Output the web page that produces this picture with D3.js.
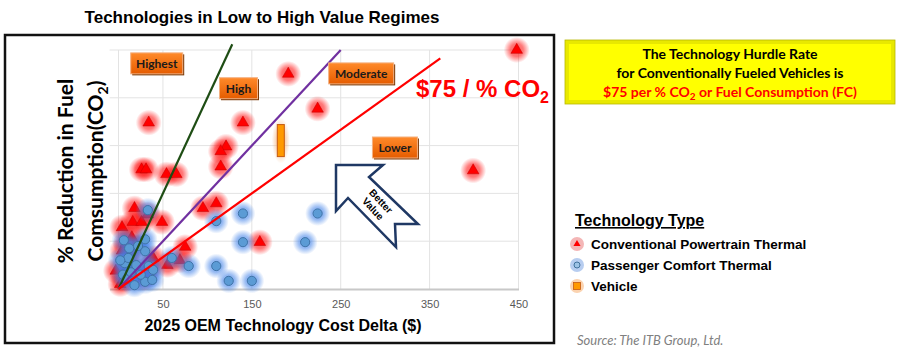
<!DOCTYPE html>
<html>
<head>
<meta charset="utf-8">
<script src="https://cdn.jsdelivr.net/npm/d3@7"></script>
<style>
  body { margin: 0; background: #fff; }
  svg { display: block; }
</style>
</head>
<body>
<svg id="chart" width="900" height="362"></svg>
<script>
// ---- data ----
const xTicks = [50, 150, 250, 350, 450];
const yTicks = [0, 1, 2, 3, 4, 5];

// Conventional Powertrain Thermal: [cost $, % reduction]
const redPts = [
  [448, 5.0], [191, 4.5], [224, 3.77], [34, 3.48], [140, 3.48], [121, 2.98],
  [115, 2.88], [115, 2.56], [26, 2.5], [31, 2.5], [54, 2.4], [65, 2.4],
  [399, 2.48], [95, 1.69], [110, 1.79], [159, 0.98], [75, 0.88], [69, 0.6],
  [55, 0.5], [18, 1.69], [33, 1.56], [16, 1.4], [26, 1.4], [49, 1.4],
  [4, 1.29], [4, 0.8], [17, 0.88], [15, 1.08], [39, 0.65], [35, 0.44],
  [28, 0.23], [30, 0.31], [2, 0.1], [6, 0.2], [-3, 0.38], [10, 0.45], [8, 0.95], [12, 0.6]
];

// Passenger Comfort Thermal
const bluePts = [
  [140, 1.58], [224, 1.58], [110, 1.42], [140, 0.98], [210, 0.98], [79, 0.48],
  [110, 0.48], [124, 0.17], [150, 0.17], [33, 1.65], [6, 1.02], [30, 1.04],
  [30, 0.79], [7, 0.54], [11, 0.65], [34, 0.48], [39, 0.4], [18, 0.08],
  [30, 0.15], [38, 0.19], [60, 0.65], [5, 0.3], [9, 0.2], [14, 0.35],
  [20, 0.5], [22, 0.9], [12, 0.85], [2, 0.6], [25, 0.3]
];

// Vehicle (shown as a range bar)
const vehicle = [{ x: 182.6, y0: 2.77, y1: 3.44 }];

// $ per % lines
const hurdles = [
  { slope: 25, xEnd: 128, color: '#1e4d14' },
  { slope: 50, xEnd: 250, color: '#7030a0' },
  { slope: 75, xEnd: 362, color: '#ff0000' }
];

const regimes = [
  { text: 'Highest',  x: 43,  y: 4.71, w: 52 },
  { text: 'High',     x: 135, y: 4.19, w: 38 },
  { text: 'Moderate', x: 273, y: 4.5,  w: 65 },
  { text: 'Lower',    x: 311, y: 2.95, w: 45 }
];

const legendItems = ['Conventional Powertrain Thermal', 'Passenger Comfort Thermal', 'Vehicle'];

// ---- layout ----
const svg = d3.select('#chart');
const x = d3.scaleLinear().domain([-10, 450]).range([109.6, 518.5]);
const y = d3.scaleLinear().domain([0, 5]).range([289, 50]);

const defs = svg.append('defs');
const glow = (id, color, a) => {
  const g = defs.append('radialGradient').attr('id', id);
  g.append('stop').attr('offset', '0%').attr('stop-color', color).attr('stop-opacity', a);
  g.append('stop').attr('offset', '50%').attr('stop-color', color).attr('stop-opacity', a * 0.8);
  g.append('stop').attr('offset', '100%').attr('stop-color', color).attr('stop-opacity', 0);
};
glow('glowRed', '#ff1010', 0.7);
glow('glowBlue', '#3d7fe8', 0.68);
glow('glowOrange', '#f4a460', 0.6);

const boxGrad = defs.append('linearGradient').attr('id', 'boxGrad')
  .attr('x1', 0).attr('y1', 0).attr('x2', 0).attr('y2', 1);
boxGrad.append('stop').attr('offset', '0%').attr('stop-color', '#ff8a2a');
boxGrad.append('stop').attr('offset', '100%').attr('stop-color', '#e55c00');

// title
svg.append('text')
  .attr('x', 262).attr('y', 23)
  .attr('text-anchor', 'middle')
  .style('font', 'bold 17px "Liberation Sans", Arial, sans-serif')
  .text('Technologies in Low to High Value Regimes');

// frame
svg.append('rect')
  .attr('x', 5).attr('y', 35).attr('width', 549).attr('height', 308)
  .attr('fill', '#fff').attr('stroke', '#111').attr('stroke-width', 2.5);

// grid
const grid = svg.append('g');
grid.selectAll('.hg').data(yTicks.slice(1)).enter().append('line')
  .attr('x1', x(-10)).attr('x2', x(450))
  .attr('y1', d => y(d)).attr('y2', d => y(d))
  .attr('stroke', '#e3e3e3').attr('stroke-width', 1);
grid.selectAll('.vg').data([0].concat(xTicks)).enter().append('line')
  .attr('x1', d => x(d)).attr('x2', d => x(d))
  .attr('y1', y(5)).attr('y2', y(0))
  .attr('stroke', '#e3e3e3').attr('stroke-width', 1);

// x axis
const xAxis = svg.append('g')
  .attr('transform', `translate(0,${y(0)})`)
  .call(d3.axisBottom(x).tickValues(xTicks).tickSize(0).tickPadding(11));
xAxis.select('.domain').attr('stroke', '#c8c8c8').attr('stroke-width', 2);
xAxis.selectAll('text')
  .style('font', '11px "Liberation Sans", Arial, sans-serif')
  .attr('fill', '#595959');

// red series
const plot = svg.append('g');
plot.selectAll('.rg').data(redPts).enter().append('circle')
  .attr('cx', d => x(d[0])).attr('cy', d => y(d[1])).attr('r', 13)
  .attr('fill', 'url(#glowRed)');
plot.selectAll('.rt').data(redPts).enter().append('path')
  .attr('d', d3.symbol(d3.symbolTriangle).size(58))
  .attr('transform', d => `translate(${x(d[0])},${y(d[1])})`)
  .attr('fill', '#ff0000').attr('stroke', '#c00000').attr('stroke-width', 0.5);

// blue series
plot.selectAll('.bg').data(bluePts).enter().append('circle')
  .attr('cx', d => x(d[0])).attr('cy', d => y(d[1])).attr('r', 12.5)
  .attr('fill', 'url(#glowBlue)');
plot.selectAll('.bc').data(bluePts).enter().append('circle')
  .attr('cx', d => x(d[0])).attr('cy', d => y(d[1])).attr('r', 4.6)
  .attr('fill', '#5b9bd5').attr('stroke', '#3f73a8').attr('stroke-width', 1);

// vehicle
plot.selectAll('.vg').data(vehicle).enter().append('ellipse')
  .attr('cx', d => x(d.x)).attr('cy', d => (y(d.y0) + y(d.y1)) / 2)
  .attr('rx', 9).attr('ry', d => (y(d.y0) - y(d.y1)) / 2 + 7)
  .attr('fill', 'url(#glowOrange)');
plot.selectAll('.vr').data(vehicle).enter().append('rect')
  .attr('x', d => x(d.x) - 3.5).attr('y', d => y(d.y1))
  .attr('width', 7).attr('height', d => y(d.y0) - y(d.y1))
  .attr('fill', '#ff9900').attr('stroke', '#c55a11').attr('stroke-width', 1);

// hurdle lines
plot.selectAll('.hl').data(hurdles).enter().append('line')
  .attr('x1', x(0)).attr('y1', y(0))
  .attr('x2', d => x(d.xEnd)).attr('y2', d => y(d.xEnd / d.slope))
  .attr('stroke', d => d.color).attr('stroke-width', 2.2);

// regime boxes
const rb = svg.selectAll('.regime').data(regimes).enter().append('g')
  .attr('transform', d => `translate(${x(d.x)},${y(d.y)})`);
rb.append('rect')
  .attr('x', d => -d.w / 2 + 1.5).attr('y', -9.5).attr('width', d => d.w).attr('height', 21)
  .attr('fill', '#7a3a08');
rb.append('rect')
  .attr('x', d => -d.w / 2).attr('y', -11).attr('width', d => d.w).attr('height', 21)
  .attr('fill', 'url(#boxGrad)').attr('stroke', '#f4b183').attr('stroke-width', 1);
rb.append('text')
  .attr('y', 4).attr('text-anchor', 'middle')
  .style('font', 'bold 12px Lato, "Open Sans", sans-serif')
  .attr('fill', '#1a1a1a')
  .text(d => d.text);

// $75 / % CO2
const t75 = svg.append('text')
  .attr('x', 416).attr('y', 97)
  .attr('fill', '#ff0000')
  .style('font', 'bold 24px "Liberation Sans", Arial, sans-serif');
t75.append('tspan').text('$75 / % CO');
t75.append('tspan').attr('dy', 6).style('font-size', '16px').text('2');

// Better Value arrow
const arrowPts = [[336, 165], [383, 165], [369, 177], [418, 224], [395, 224], [396, 247], [348, 198], [336, 211]];
svg.append('polygon')
  .attr('points', arrowPts.map(p => p.join(',')).join(' '))
  .attr('fill', '#fff').attr('stroke', '#1f3864').attr('stroke-width', 2.5)
  .attr('stroke-linejoin', 'miter');
const bv = svg.append('g').attr('transform', 'translate(377,205) rotate(47)')
  .style('font', 'bold 10px "Liberation Sans", Arial, sans-serif')
  .attr('text-anchor', 'middle');
bv.append('text').attr('y', -2).text('Better');
bv.append('text').attr('y', 9).text('Value');

// y label
const yl = svg.append('g').attr('transform', 'translate(0,171) rotate(-90)')
  .style('font', 'bold 21px Lato, "Open Sans", sans-serif')
  .attr('text-anchor', 'middle');
yl.append('text').attr('x', 0).attr('y', 73).text('% Reduction in Fuel');
const yl2 = yl.append('text').attr('x', 0).attr('y', 103);
yl2.append('tspan').text('Comsumption(CO');
yl2.append('tspan').attr('dy', 5).style('font-size', '14px').text('2');
yl2.append('tspan').attr('dy', -5).text(')');

// x label
svg.append('text')
  .attr('x', 283).attr('y', 331)
  .attr('text-anchor', 'middle')
  .style('font', 'bold 16px "Liberation Sans", Arial, sans-serif')
  .text('2025 OEM Technology Cost Delta ($)');

// yellow hurdle box
const yb = svg.append('g');
yb.append('rect').attr('x', 565).attr('y', 40).attr('width', 330).attr('height', 64)
  .attr('fill', '#e8e800').attr('stroke', '#b8b800').attr('stroke-width', 0.8);
yb.append('rect').attr('x', 569).attr('y', 44).attr('width', 322).attr('height', 56)
  .attr('fill', '#ffff00');
const ybt = yb.append('g').attr('text-anchor', 'middle')
  .style('font', 'bold 14px Lato, "Open Sans", sans-serif');
ybt.append('text').attr('x', 730).attr('y', 59).text('The Technology Hurdle Rate');
ybt.append('text').attr('x', 730).attr('y', 78).text('for Conventionally Fueled Vehicles is');
const yt3 = ybt.append('text').attr('x', 730).attr('y', 97).attr('fill', '#ff0000');
yt3.append('tspan').text('$75 per % CO');
yt3.append('tspan').attr('dy', 3).style('font-size', '10px').text('2');
yt3.append('tspan').attr('dy', -3).text(' or Fuel Consumption (FC)');

// legend
svg.append('text')
  .attr('x', 575).attr('y', 226)
  .style('font', 'bold 16px "Liberation Sans", Arial, sans-serif')
  .attr('text-decoration', 'underline')
  .text('Technology Type');
const lg = svg.selectAll('.lg').data(legendItems).enter().append('g')
  .attr('transform', (d, i) => `translate(577,${244 + i * 21})`);
lg.append('circle').attr('r', 7)
  .attr('fill', (d, i) => ['#f4b6b6', '#b7cdf0', '#fbd3b0'][i]);
lg.filter((d, i) => i === 0).append('path')
  .attr('d', d3.symbol(d3.symbolTriangle).size(22)).attr('fill', '#ff0000');
lg.filter((d, i) => i === 1).append('circle').attr('r', 3)
  .attr('fill', '#9dc3e6').attr('stroke', '#41719c').attr('stroke-width', 1);
lg.filter((d, i) => i === 2).append('rect')
  .attr('x', -3.5).attr('y', -3.5).attr('width', 7).attr('height', 7)
  .attr('fill', '#ff9900').attr('stroke', '#c55a11').attr('stroke-width', 0.8);
lg.append('text').attr('x', 14).attr('y', 5)
  .style('font', 'bold 13.5px "Liberation Sans", Arial, sans-serif')
  .text(d => d);

// source
svg.append('text')
  .attr('x', 577).attr('y', 345)
  .style('font', 'italic 13px Lato, "Open Sans", sans-serif')
  .attr('fill', '#808080')
  .text('Source:  The ITB Group, Ltd.');
</script>
</body>
</html>
